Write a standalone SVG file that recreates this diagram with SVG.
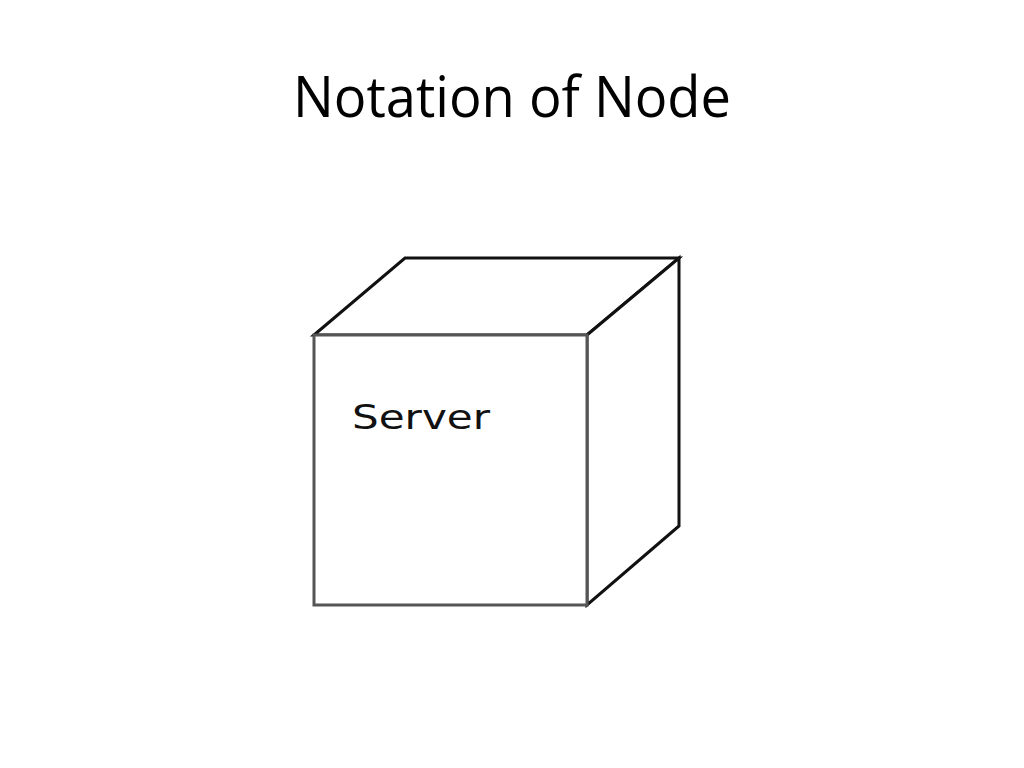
<svg xmlns="http://www.w3.org/2000/svg" width="1024" height="768" viewBox="0 0 1024 768">
<style>
.title{font-family:"Open Sans","Liberation Sans",sans-serif;font-size:56px;fill:#000}
.label{font-family:"DejaVu Sans","Liberation Sans",sans-serif;font-size:33px;fill:#111}
.front{fill:#fff;stroke:#555;stroke-width:3}
.edge{fill:#fff;stroke:#111;stroke-width:3;stroke-linejoin:miter}
</style>
<rect width="1024" height="768" fill="#fff"/>
<text class="title" x="512" y="117" text-anchor="middle" textLength="438" lengthAdjust="spacingAndGlyphs">Notation of Node</text>
<g id="server">
<polygon class="edge" points="314,335 405,258 679,258 587,335"/>
<polygon class="edge" points="587,335 679,258 679,526 587,605"/>
<rect class="front" x="314" y="335" width="273" height="270"/>
<text class="label" x="352" y="429" textLength="138" lengthAdjust="spacingAndGlyphs">Server</text>
</g>
<g id="connectors"/>
</svg>
